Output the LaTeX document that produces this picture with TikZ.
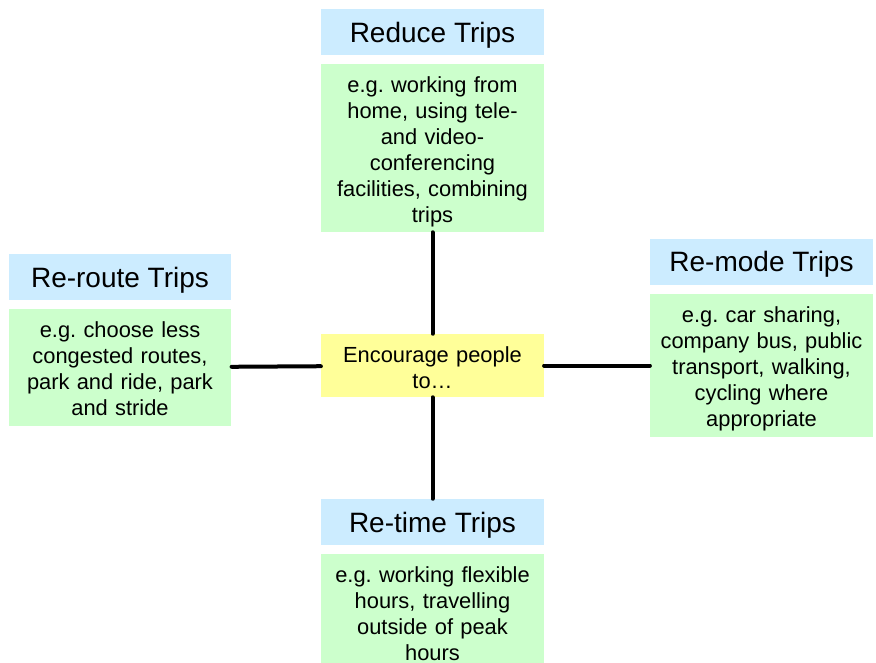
\documentclass[tikz,border=0pt]{standalone}
\usepackage{fontspec}
\setmainfont{Liberation Sans}
\frenchspacing
\definecolor{headblue}{RGB}{204,236,255}
\definecolor{notegreen}{RGB}{204,255,204}
\definecolor{hubyellow}{RGB}{255,255,153}
\tikzset{heading/.style={fill=headblue, minimum width=167pt, minimum height=34.5pt, inner sep=0pt, text depth=0pt, font=\fontsize{21}{25}\selectfont},
note/.style={fill=notegreen, minimum width=167pt, minimum height=#1, inner sep=0pt, text width=164pt, text height=17pt, align=center, font=\fontsize{16.4}{19.5}\selectfont},
%default height of a note box
note/.default={90pt},
link/.style={line width=3pt, line cap=round}}

\begin{document}
\begin{tikzpicture}[x=0.75pt, y=-0.75pt]

    \useasboundingbox (0,0) rectangle (876,662);

    \node[heading] (reduce) at (432.5,32) {Reduce Trips};
    \node[note=126pt] (reducetxt) at (432.5,148) {e.g. working from\\home, using tele-\\and video-\\conferencing\\facilities, combining\\trips};

    \node[heading] (reroute) at (120,277) {Re-route Trips};
    \node[note=87.75pt, text height=14pt] (reroutetxt) at (120,367.5) {e.g. choose less\\congested routes,\\park and ride, park\\and stride};

    \node[heading] (remode) at (761.5,261.5) {Re-mode Trips};
    \node[note=107.25pt] (remodetxt) at (761.5,365.5) {e.g. car sharing,\\company bus, public\\transport, walking,\\cycling where\\appropriate};

    \node[heading] (retime) at (432.5,522) {Re-time Trips};
    \node[note=87pt, text height=14pt] (retimetxt) at (432.5,612) {e.g. working flexible\\hours, travelling\\outside of peak\\hours};

    \node[note=47.25pt, fill=hubyellow, text height=14.5pt] (hub) at (432.5,365.5) {Encourage people\\to…};

    \draw[link] (reducetxt) -- (hub);
    \draw[link] (hub) -- (retime);
    \draw[link] (reroutetxt) -- (hub);
    \draw[link] (hub) -- (remodetxt);

  \end{tikzpicture}
\end{document}
